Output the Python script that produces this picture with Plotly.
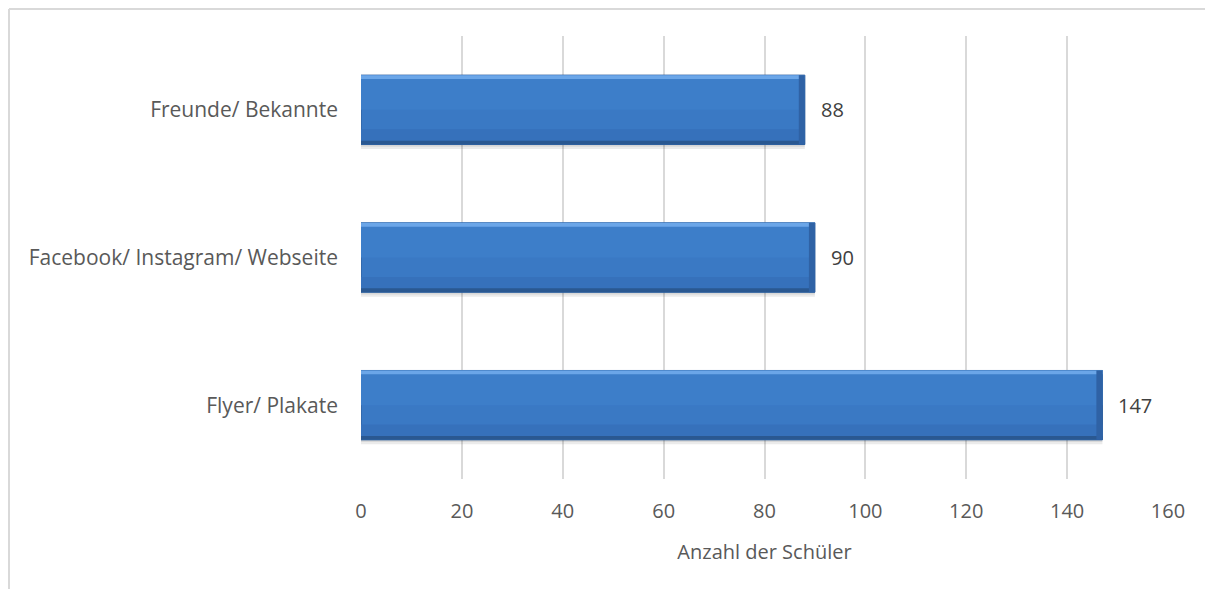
import plotly.graph_objects as go

categories = ["Flyer/ Plakate", "Facebook/ Instagram/ Webseite", "Freunde/ Bekannte"]
values = [147, 90, 88]
x_ticks = [0, 20, 40, 60, 80, 100, 120, 140, 160]
x_title = "Anzahl der Schüler"

FONT = "Open Sans"
GRAY = "#595959"

BAR_W = 0.47
HALF = BAR_W / 2
STRIP = 0.026

# page offset of the plotly div inside the html body
OFF = 8
L, R, T, B = 361, 1168, 36, 479
W, H = 1213, 589
PW, PH = R - L, B - T

fig = go.Figure()

# soft shadow
fig.add_trace(go.Bar(
    y=categories, x=values, orientation="h",
    width=BAR_W, offset=-HALF - 0.03,
    marker=dict(color="rgba(0,0,0,0.08)", line=dict(width=0)),
    hoverinfo="skip", showlegend=False,
))
fig.add_trace(go.Bar(
    y=categories, x=values, orientation="h",
    width=BAR_W, offset=-HALF - 0.015,
    marker=dict(color="rgba(0,0,0,0.08)", line=dict(width=0)),
    hoverinfo="skip", showlegend=False,
))
# main bar
fig.add_trace(go.Bar(
    y=categories, x=values, orientation="h",
    width=BAR_W, offset=-HALF,
    marker=dict(color="#3a79c4", line=dict(color="#2c5c98", width=1)),
    showlegend=False,
))
# slightly lighter upper half
fig.add_trace(go.Bar(
    y=categories, x=values, orientation="h",
    width=BAR_W * 0.5, offset=HALF - BAR_W * 0.5,
    marker=dict(color="#3d7ec9", line=dict(width=0)),
    hoverinfo="skip", showlegend=False,
))
# slightly darker lower part
fig.add_trace(go.Bar(
    y=categories, x=values, orientation="h",
    width=BAR_W * 0.22, offset=-HALF,
    marker=dict(color="#3671bb", line=dict(width=0)),
    hoverinfo="skip", showlegend=False,
))
# top highlight bevel
fig.add_trace(go.Bar(
    y=categories, x=values, orientation="h",
    width=STRIP, offset=HALF - STRIP,
    marker=dict(color="#6ba6e8", line=dict(width=0)),
    hoverinfo="skip", showlegend=False,
))
# bottom dark bevel
fig.add_trace(go.Bar(
    y=categories, x=values, orientation="h",
    width=STRIP, offset=-HALF,
    marker=dict(color="#2a5891", line=dict(width=0)),
    hoverinfo="skip", showlegend=False,
))
# right dark bevel
fig.add_trace(go.Bar(
    y=categories, x=[1.2] * len(values), base=[v - 1.2 for v in values], orientation="h",
    width=BAR_W, offset=-HALF,
    marker=dict(color="#2f62a5", line=dict(width=0)),
    hoverinfo="skip", showlegend=False,
))

for c, v in zip(categories, values):
    fig.add_annotation(
        x=v, y=c, text=str(v), showarrow=False,
        xanchor="left", xshift=14,
        font=dict(family=FONT, size=20, color="#404040"),
    )

# chart frame (top and left edges visible in the crop), 1px inside the figure
frame_top = 1 + (T - OFF - 1) / PH
frame_left = (1 - (L - OFF)) / PW

fig.update_layout(
    width=W, height=H,
    margin=dict(l=L - OFF, r=W - R + OFF, t=T - OFF, b=H - B + OFF),
    paper_bgcolor="white", plot_bgcolor="white",
    barmode="overlay",
    font=dict(family=FONT, size=20, color=GRAY),
    xaxis=dict(
        range=[0, 160], tickvals=x_ticks, ticktext=[str(t) for t in x_ticks],
        showgrid=True, gridcolor="#d9d9d9", gridwidth=2,
        zeroline=False, showline=False, ticks="",
        ticklabelstandoff=18,
        tickfont=dict(family=FONT, size=20, color=GRAY),
        title=dict(text=x_title, font=dict(family=FONT, size=20, color=GRAY), standoff=21),
        fixedrange=True,
    ),
    yaxis=dict(
        categoryorder="array", categoryarray=categories,
        range=[-0.5, 2.5],
        showgrid=False, zeroline=False, showline=False, ticks="",
        ticklabelstandoff=22,
        tickfont=dict(family=FONT, size=21, color=GRAY),
        fixedrange=True,
    ),
    shapes=[
        dict(type="line", xref="paper", yref="paper",
             x0=frame_left, x1=1.2, y0=frame_top, y1=frame_top,
             line=dict(color="#d9d9d9", width=2), layer="below"),
        dict(type="line", xref="paper", yref="paper",
             x0=frame_left, x1=frame_left, y0=frame_top, y1=-0.5,
             line=dict(color="#d9d9d9", width=2), layer="below"),
    ],
)

fig.write_html("out.html")
